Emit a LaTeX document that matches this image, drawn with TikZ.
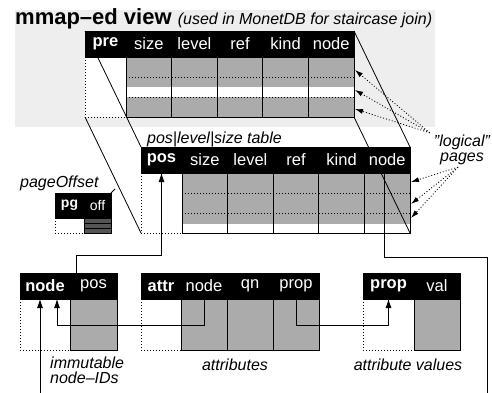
\documentclass[tikz,border=0pt]{standalone}
\usepackage{fontspec}
\setmainfont{Liberation Sans}
\usetikzlibrary{arrows.meta,positioning,calc}
\pgfdeclarelayer{front}
\pgfsetlayers{main,front}
\definecolor{cgray}{HTML}{ABABAB}
\definecolor{cback}{HTML}{EEEEEE}
\definecolor{cdark}{HTML}{555555}
\newcommand{\tfont}{\fontsize{16.5}{15}\selectfont}
\tikzstyle{l1}=[line width=0.8]
\tikzstyle{hcell}=[fill=black, draw=black, text=white, inner sep=0pt, outer sep=0pt, minimum height=26, font=\tfont]
\tikzstyle{bcell}=[fill=cgray, draw=black, l1, inner sep=0pt, outer sep=0pt]
\tikzstyle{kcell}=[fill=white, inner sep=0pt, outer sep=0pt]
\tikzstyle{dots}=[l1, dash pattern=on 1pt off 2pt]
\tikzstyle{link}=[l1, -{Latex[length=9pt,width=6pt]}]
\tikzstyle{plink}=[dots, -{Latex[length=8pt,width=5pt]}]
\tikzstyle{lbl}=[inner sep=0pt, font=\fontsize{16}{15}\selectfont\itshape]
\tikzset{
  tpages/.style={bcell, minimum width=45.6, minimum height=60, path picture={
    \fill[white] ($(path picture bounding box.north west)+(0,30)$) rectangle ($(path picture bounding box.north east)+(0,40)$);
    \draw[dots] ($(path picture bounding box.north west)+(0,20)$) -- ($(path picture bounding box.north east)+(0,20)$);
    \draw[dots] ($(path picture bounding box.north west)+(0,40)$) -- ($(path picture bounding box.north east)+(0,40)$);}},
  mpages/.style={bcell, minimum width=45.6, minimum height=60, path picture={
    \fill[white] ($(path picture bounding box.north west)+(0,51)$) rectangle (path picture bounding box.south east);
    \draw[dots] ($(path picture bounding box.north west)+(0,20)$) -- ($(path picture bounding box.north east)+(0,20)$);
    \draw[dots] ($(path picture bounding box.north west)+(0,40)$) -- ($(path picture bounding box.north east)+(0,40)$);}},
  stripes/.style={path picture={
    \draw[l1] ($(path picture bounding box.north west)+(0,5)$) -- ($(path picture bounding box.north east)+(0,5)$);
    \draw[l1] ($(path picture bounding box.north west)+(0,10)$) -- ($(path picture bounding box.north east)+(0,10)$);}}
}

\begin{document}
\begin{tikzpicture}[x=1pt, y=-1pt]
    \useasboundingbox (0,0) rectangle (492,393);
    \fill[cback] (15,10) rectangle (435,127);
    \node[anchor=base west, inner sep=0pt] (title) at (15,25) {\fontsize{22}{22}\selectfont\bfseries mmap--ed view\ {\fontsize{16}{16}\selectfont\mdseries\itshape (used in MonetDB for staircase join)}};

    % mmap-ed view
    \node[kcell, anchor=north west, minimum width=41, minimum height=60] (tpreb) at (85,57) {};
    \node[tpages, right=0pt of tpreb] (tsizeb) {};
    \node[tpages, right=0pt of tsizeb] (tlevelb) {};
    \node[tpages, right=0pt of tlevelb] (trefb) {};
    \node[tpages, right=0pt of trefb] (tkindb) {};
    \node[tpages, right=0pt of tkindb] (tnodeb) {};
    \draw[dots] (tpreb.north west) |- (tpreb.south east);
    \begin{pgfonlayer}{front}
    \node[hcell, minimum width=41, above=0pt of tpreb] (tpre) {\bfseries pre};
    \node[hcell, minimum width=45.6, above=0pt of tsizeb] (tsize) {size};
    \node[hcell, minimum width=45.6, above=0pt of tlevelb] (tlevel) {level};
    \node[hcell, minimum width=45.6, above=0pt of trefb] (tref) {ref};
    \node[hcell, minimum width=45.6, above=0pt of tkindb] (tkind) {kind};
    \node[hcell, minimum width=45.6, above=0pt of tnodeb] (tnode) {node};
    \end{pgfonlayer}

    % pos|level|size table
    \node[kcell, anchor=north west, minimum width=41, minimum height=60] (mposb) at (141,173) {};
    \node[mpages, right=0pt of mposb] (msizeb) {};
    \node[mpages, right=0pt of msizeb] (mlevelb) {};
    \node[mpages, right=0pt of mlevelb] (mrefb) {};
    \node[mpages, right=0pt of mrefb] (mkindb) {};
    \node[mpages, right=0pt of mkindb] (mnodeb) {};
    \draw[dots] (mposb.north west) |- (mposb.south east);
    \begin{pgfonlayer}{front}
    \node[hcell, minimum width=41, above=0pt of mposb] (mpos) {\bfseries pos};
    \node[hcell, minimum width=45.6, above=0pt of msizeb] (msize) {size};
    \node[hcell, minimum width=45.6, above=0pt of mlevelb] (mlevel) {level};
    \node[hcell, minimum width=45.6, above=0pt of mrefb] (mref) {ref};
    \node[hcell, minimum width=45.6, above=0pt of mkindb] (mkind) {kind};
    \node[hcell, minimum width=45.6, above=0pt of mnodeb] (mnode) {node};
    \end{pgfonlayer}
    \node[lbl, anchor=base west] (ptab) at (147,143) {pos|level|size table};

    % view onto the table
    \draw[l1] (tpre.north west) -- (mpos.north west);
    \draw[l1] (tpreb.south west) -- (mposb.south west);
    \draw[l1] (tnode.north east) -- (mnode.north east);
    \draw[l1] (tnodeb.south east) -- (mnodeb.south east);

    % pageOffset
    \node[kcell, anchor=north west, minimum width=29, minimum height=15] (pgb) at (55,218) {};
    \node[bcell, fill=cdark, stripes, minimum width=27, minimum height=15, right=0pt of pgb] (offb) {};
    \draw[dots] (pgb.north west) |- (pgb.south east);
    \node[hcell, minimum width=29, minimum height=25, font=\fontsize{14}{14}\selectfont, above=0pt of pgb] (pg) {\bfseries pg};
    \node[hcell, minimum width=27, minimum height=25, font=\fontsize{14}{14}\selectfont, above=0pt of offb] (off) {off};
    \draw[l1] (off.north east) -- ++(4,-4);
    \node[lbl, anchor=base west] (poff) at (20,187) {pageOffset};

    % node table
    \node[kcell, anchor=north west, minimum width=50, minimum height=51] (nnodeb) at (20,299) {};
    \node[bcell, minimum width=47, minimum height=51, right=0pt of nnodeb] (nposb) {};
    \draw[dots] (nnodeb.north west) |- (nnodeb.south east);
    \node[hcell, minimum width=50, above=0pt of nnodeb] (nnode) {\bfseries node};
    \node[hcell, minimum width=47, above=0pt of nposb] (npos) {pos};

    % attr table
    \node[kcell, anchor=north west, minimum width=40, minimum height=51] (aattrb) at (141,299) {};
    \node[bcell, minimum width=46, minimum height=51, right=0pt of aattrb] (anodeb) {};
    \node[bcell, minimum width=46, minimum height=51, right=0pt of anodeb] (aqnb) {};
    \node[bcell, minimum width=46, minimum height=51, right=0pt of aqnb] (apropb) {};
    \draw[dots] (aattrb.north west) |- (aattrb.south east);
    \node[hcell, minimum width=40, above=0pt of aattrb] (aattr) {\bfseries attr};
    \node[hcell, minimum width=46, above=0pt of anodeb] (anode) {node};
    \node[hcell, minimum width=46, above=0pt of aqnb] (aqn) {qn};
    \node[hcell, minimum width=46, above=0pt of apropb] (aprop) {prop};

    % prop table
    \node[kcell, anchor=north west, minimum width=51, minimum height=51] (ppropb) at (363,299) {};
    \node[bcell, minimum width=46, minimum height=51, right=0pt of ppropb] (pvalb) {};
    \draw[dots] (ppropb.north west) |- (ppropb.south east);
    \node[hcell, minimum width=51, above=0pt of ppropb] (pprop) {\bfseries prop};
    \node[hcell, minimum width=46, above=0pt of pvalb] (pval) {val};

    \node[lbl, align=left, anchor=north west] (ids) at (50,357) {immutable\\node--IDs};
    \node[lbl, anchor=base] (attrs) at (235,370) {attributes};
    \node[lbl, anchor=base] (vals) at (408,370) {attribute values};

    % references
    \coordinate (in) at (40,393);
    \coordinate (out) at (487,393);
    \draw[link] (in) -- (in |- nnode.south);
    \draw[link] ($(npos.north west)+(6,0)$) -- ++(0,-18) -| (mpos.south);
    \draw[l1] ($(mnode.south)+(-3,0)$) -- ++(0,84) -| (out);
    \draw[link] (anode.south) -- ++(0,26) -| ($(nnode.south)+(12,0)$);
    \draw[link] (aprop.south) -- ++(0,26) -| (pprop.south);

    % logical pages
    \node[lbl, align=center] (lp) at (462,150) {"logical"\\pages};
    \draw[plink] ($(lp.north west)+(-4,-2)$) -- ($(tnodeb.north east)+(1,13)$);
    \draw[plink] ($(lp.north west)+(-4,-2)$) -- ($(tnodeb.north east)+(1,33)$);
    \draw[plink] ($(lp.north west)+(-4,-2)$) -- ($(tnodeb.north east)+(1,52)$);
    \draw[plink] ($(lp.south)+(-4,2)$) -- ($(mnodeb.north east)+(1,9)$);
    \draw[plink] ($(lp.south)+(-4,2)$) -- ($(mnodeb.north east)+(1,31)$);
    \draw[plink] ($(lp.south)+(-4,2)$) -- ($(mnodeb.north east)+(1,45)$);
\end{tikzpicture}
\end{document}
